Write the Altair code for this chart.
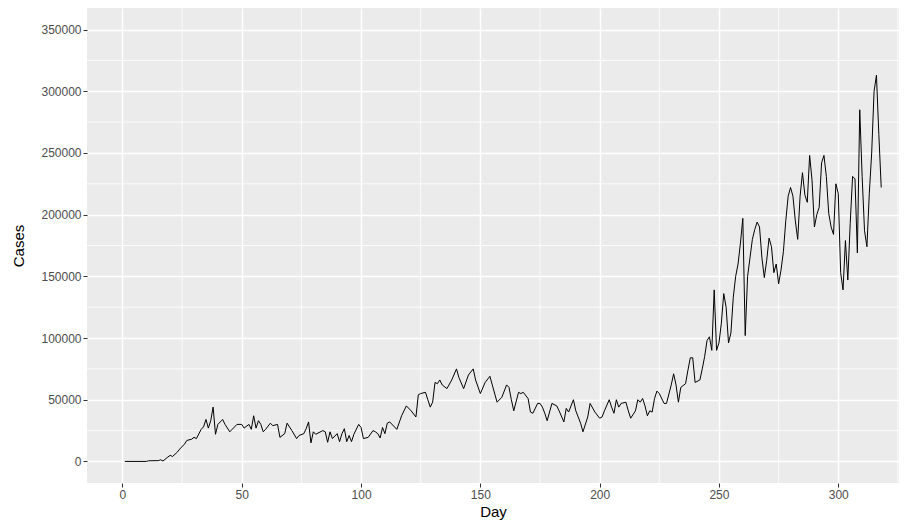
import altair as alt
import pandas as pd

days = [1, 10, 11, 15, 16, 17, 19, 20, 21, 23, 24, 26, 27, 29, 30, 31, 33, 34, 35, 36, 37, 38, 39, 40,
        41, 42, 43, 45, 46, 48, 50, 51, 53, 54, 55, 56, 57, 58, 59, 60, 62, 63, 65, 66, 68, 69, 71, 73,
        74, 76, 77, 78, 79, 80, 81, 84, 85, 86, 87, 88, 90, 91, 92, 93, 94, 95, 96, 97, 99, 100, 101,
        103, 105, 106, 107, 108, 109, 110, 111, 112, 114, 115, 117, 119, 121, 123, 124, 125, 127, 128,
        129, 130, 131, 132, 133, 134, 136, 138, 140, 141, 143, 145, 147, 148, 150, 152, 154, 155, 157,
        159, 161, 162, 163, 164, 166, 167, 168, 170, 171, 172, 174, 175, 176, 177, 178, 180, 182, 183,
        185, 186, 187, 189, 190, 192, 193, 195, 196, 198, 200, 201, 202, 204, 205, 206, 207, 208, 209,
        211, 212, 213, 215, 216, 217, 218, 219, 220, 221, 222, 223, 224, 225, 227, 228, 230, 231, 232,
        233, 234, 236, 237, 238, 239, 240, 242, 243, 244, 245, 246, 247, 248, 249, 250, 251, 252, 253,
        254, 255, 256, 257, 258, 259, 260, 261, 262, 263, 264, 265, 266, 267, 268, 269, 270, 271, 272,
        273, 274, 275, 276, 277, 278, 279, 280, 281, 282, 283, 284, 285, 286, 287, 288, 289, 290, 291,
        292, 293, 294, 295, 296, 297, 298, 299, 300, 301, 302, 303, 304, 305, 306, 307, 308, 309, 310,
        311, 312, 313, 314, 315, 316, 317, 318]

cases = [0, 0, 500, 600, 1300, 300, 3500, 4900, 4000, 7500, 10000, 14000, 17000, 18000, 19500, 18500,
         26000, 28000, 34000, 27000, 33000, 44000, 22000, 30000, 32000, 34000, 30000, 24000, 26000,
         30000, 30000, 27000, 30000, 26000, 37000, 27000, 33000, 30000, 24000, 26000, 31000, 29000,
         30000, 19500, 22500, 31000, 25000, 18500, 21000, 22500, 26500, 32000, 15000, 24000, 22000,
         25000, 24000, 15500, 24000, 18500, 22500, 16000, 22500, 26500, 16000, 21000, 16000, 22000,
         30000, 27500, 18500, 19500, 25000, 24000, 22500, 19000, 27500, 22500, 31000, 32000, 28000,
         26000, 37000, 45000, 41000, 36000, 54000, 55000, 56000, 50000, 44000, 48000, 64000, 63000,
         66000, 62000, 59000, 66000, 75000, 68000, 59000, 70000, 75000, 66000, 55000, 64000, 69000,
         62000, 48000, 52000, 62000, 60000, 50000, 41000, 56000, 55000, 56000, 51000, 40000, 39000,
         47000, 47000, 44000, 39000, 33000, 47000, 45000, 41000, 32000, 43000, 40000, 50000, 41000,
         31000, 24000, 36000, 47000, 40000, 35000, 36000, 41000, 50000, 44000, 39000, 50000, 44000,
         47000, 48000, 41000, 35000, 41000, 50000, 48000, 51000, 45000, 37000, 41000, 40000, 51000,
         57000, 55000, 47000, 47000, 62000, 71000, 62000, 48000, 60000, 63000, 74000, 84000, 84000,
         64000, 66000, 75000, 85000, 98000, 101000, 90000, 139000, 90000, 96000, 112000, 136000,
         125000, 96000, 104000, 133000, 150000, 160000, 177000, 197000, 102000, 150000, 165000,
         180000, 188000, 194000, 190000, 165000, 149000, 163000, 181000, 174000, 153000, 160000,
         144000, 155000, 170000, 195000, 215000, 222000, 215000, 195000, 180000, 215000, 234000,
         216000, 210000, 248000, 228000, 190000, 200000, 206000, 242000, 248000, 231000, 201000,
         190000, 184000, 225000, 217000, 153000, 139000, 179000, 147000, 193000, 231000, 229000,
         169000, 285000, 231000, 187000, 174000, 217000, 250000, 300000, 313000, 265000, 222000]

x_major = [0, 50, 100, 150, 200, 250, 300]
x_minor = [25, 75, 125, 175, 225, 275, 325]
y_major = [0, 50000, 100000, 150000, 200000, 250000, 300000, 350000]
y_minor = [25000, 75000, 125000, 175000, 225000, 275000, 325000]

df = pd.DataFrame({"Day": days, "Cases": cases})
xs = alt.Scale(domain=[-14.85, 325.45], nice=False, zero=False)
ys = alt.Scale(domain=[-17500, 367500], nice=False, zero=False)

FONT = "Liberation Sans"

x_axis = alt.Axis(values=x_major, format="d", grid=True, gridColor="white",
                  gridWidth=1.5, domain=False, tickColor="#333333", tickSize=4,
                  tickWidth=1, labelColor="#4D4D4D", labelFontSize=12,
                  labelPadding=2, labelFont=FONT, titleFont=FONT,
                  titleFontSize=15, titleFontWeight="normal", titleColor="black",
                  titleY=33, titleBaseline="alphabetic")
y_axis = alt.Axis(values=y_major, format="d", grid=True, gridColor="white",
                  gridWidth=1.5, domain=False, tickColor="#333333", tickSize=4,
                  tickWidth=1, labelColor="#4D4D4D", labelFontSize=12,
                  labelPadding=2, labelFont=FONT, titleFont=FONT,
                  titleFontSize=15, titleFontWeight="normal", titleColor="black",
                  titlePadding=14)

minor_y = alt.Chart(pd.DataFrame({"Cases": y_minor})).mark_rule(
    color="white", strokeWidth=0.8
).encode(y=alt.Y("Cases:Q", scale=ys, axis=y_axis, title="Cases"))

minor_x = alt.Chart(pd.DataFrame({"Day": x_minor})).mark_rule(
    color="white", strokeWidth=0.8
).encode(x=alt.X("Day:Q", scale=xs, axis=x_axis, title="Day"))

line = alt.Chart(df).mark_line(color="black", strokeWidth=1).encode(
    x=alt.X("Day:Q", scale=xs, title="Day", axis=x_axis),
    y=alt.Y("Cases:Q", scale=ys, title="Cases", axis=y_axis),
)

chart = alt.layer(minor_y, minor_x, line).properties(
    width=812, height=475,
    autosize=alt.AutoSizeParams(type="none"),
    padding={"left": 79, "top": 0, "right": 0, "bottom": 38},
    background="white",
).configure_view(fill="#EBEBEB", stroke=None)

chart.save("out.html", embed_options={"renderer": "svg", "actions": False})
